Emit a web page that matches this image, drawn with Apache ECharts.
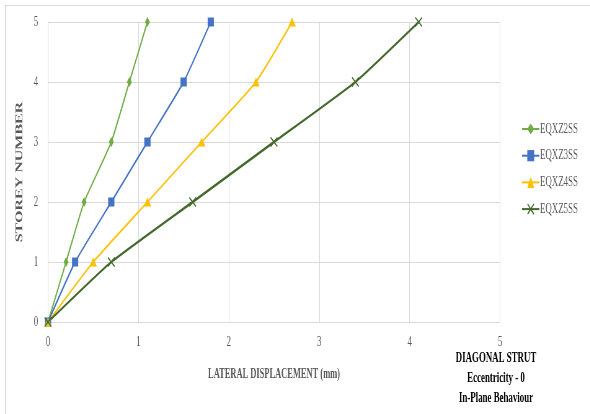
<!DOCTYPE html>
<html><head><meta charset="utf-8">
<script src="https://cdn.jsdelivr.net/npm/echarts@6/dist/echarts.min.js"></script>
<style>
html,body{margin:0;padding:0;background:#fff;overflow:hidden;}
#frame{position:absolute;left:5px;top:5px;width:600px;height:420px;border:1px solid #d9d9d9;box-sizing:border-box;}
#c{position:absolute;left:0;top:0;width:952px;height:414px;transform:scaleX(0.62);transform-origin:0 0;}
</style></head>
<body><div id="frame"></div><div id="c"></div>
<script>
const seriesNames = ['EQXZ2SS','EQXZ3SS','EQXZ4SS','EQXZ5SS'];
const storeys = [0,1,2,3,4,5];
const disp2 = [0,0.2,0.4,0.7,0.9,1.1];
const disp3 = [0,0.3,0.7,1.1,1.5,1.8];
const disp4 = [0,0.5,1.1,1.7,2.3,2.7];
const disp5 = [0,0.7,1.6,2.5,3.4,4.1];
const xTicks = [0,1,2,3,4,5];
const yTicks = [0,1,2,3,4,5];

const colors = ['#70AD47','#4472C4','#FFC000','#43682B'];
const symbols = ['diamond','rect','triangle','path://M0,1L1,0L5,4L9,0L10,1L6,5L10,9L9,10L5,6L1,10L0,9L4,5Z'];
const sizes = [[8,10],[10,9],[12,9],[12,10]];
const allDisp = [disp2,disp3,disp4,disp5];
const font = '"Liberation Serif","Times New Roman",serif';

const chart = echarts.init(document.getElementById('c'));
chart.setOption({
  animation:false,
  grid:{left:77.4,right:145.5,top:22,bottom:92,containLabel:false},
  xAxis:{type:'value',min:0,max:5,interval:1,
    axisLine:{show:false},axisTick:{show:false},
    splitLine:{lineStyle:{color:'#d9d9d9'}},
    axisLabel:{color:'#595959',fontFamily:font,fontSize:14,margin:13,formatter:v=>xTicks.includes(v)?String(v):''},
    name:'LATERAL DISPLACEMENT (mm)',nameLocation:'middle',nameGap:45,
    nameTextStyle:{fontFamily:font,fontWeight:'bold',fontSize:13.6,color:'#595959'}},
  yAxis:{type:'value',min:0,max:5,interval:1,
    axisLine:{show:false},axisTick:{show:false},
    splitLine:{lineStyle:{color:'#d9d9d9'}},
    axisLabel:{color:'#595959',fontFamily:font,fontSize:14,margin:16,formatter:v=>yTicks.includes(v)?String(v):''},
    name:'STOREY NUMBER',nameLocation:'middle',nameGap:38,nameRotate:90,
    nameTextStyle:{fontFamily:font,fontWeight:'bold',fontSize:16,color:'#595959'}},
  legend:{orient:'vertical',left:836,top:117,itemGap:12.7,itemWidth:28,itemHeight:14,
    textStyle:{fontFamily:font,fontSize:14.3,color:'#595959',padding:[0,0,0,-4]},
    data:seriesNames},
  graphic:[
    {type:'text',x:800,y:348,style:{text:'DIAGONAL STRUT\nEccentricity - 0\nIn-Plane Behaviour',
      fontFamily:font,fontWeight:'bold',fontSize:14.3,lineHeight:20,fill:'#000',align:'center'}}],
  series: seriesNames.map((n,i)=>({
    name:n,type:'line',smooth:0.15,
    data: storeys.map((s,j)=>[allDisp[i][j],s]),
    symbol:symbols[i],symbolSize:sizes[i],showSymbol:true,
    lineStyle:{color:colors[i],width:i===3?2.5:2},
    itemStyle:{color:colors[i]}
  }))
});
</script></body></html>
